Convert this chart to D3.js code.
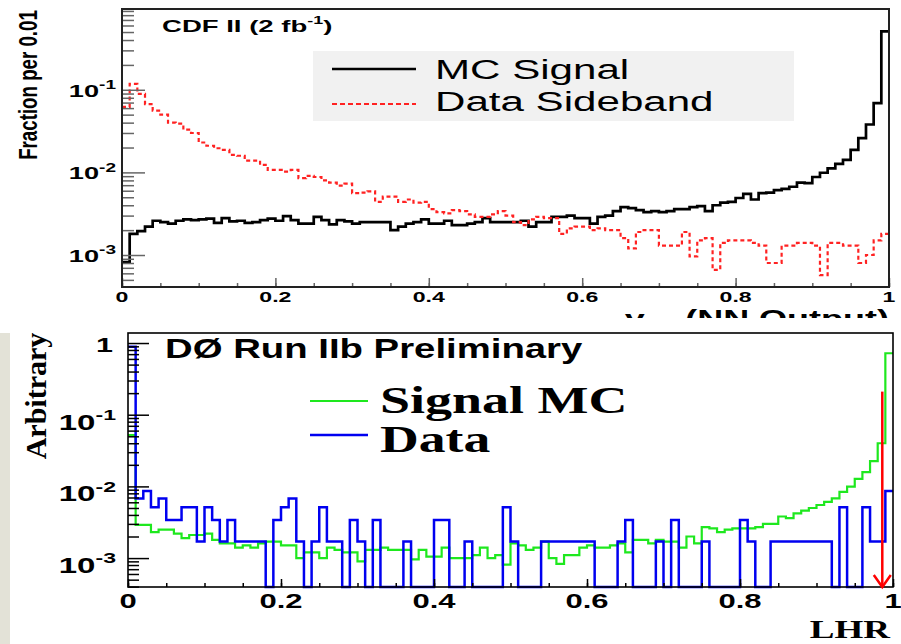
<!DOCTYPE html>
<html><head><meta charset="utf-8">
<script src="https://cdn.jsdelivr.net/npm/d3@7/dist/d3.min.js"></script>
<style>body{margin:0;background:#fff}svg{display:block}</style>
</head><body><svg id="c" width="901" height="644"></svg>
<script>
// ---------------- DATA ----------------
// Top panel (CDF II): NN output, 100 bins of 0.01
const mcSignal = [
0.00082,0.0018,0.00195,0.0022,0.0026,0.0025,0.0024,0.0026,0.0027,0.00265,
0.0027,0.00275,0.00245,0.0028,0.00255,0.0026,0.00245,0.0025,0.00265,0.00275,
0.0026,0.00295,0.00265,0.0024,0.0024,0.0029,0.00265,0.00235,0.00265,0.00255,
0.0024,0.0025,0.0025,0.0025,0.0025,0.0020,0.0022,0.0024,0.0025,0.0027,
0.0024,0.0024,0.0026,0.0023,0.0023,0.0024,0.0025,0.0028,0.0025,0.0025,
0.0025,0.0025,0.0026,0.0022,0.0025,0.0025,0.0029,0.0029,0.0030,0.0028,
0.0028,0.0024,0.0029,0.0030,0.0034,0.0038,0.0037,0.0035,0.0033,0.0034,
0.0033,0.0034,0.0036,0.0036,0.0038,0.0039,0.0034,0.0040,0.0043,0.0044,
0.0049,0.0055,0.0047,0.0056,0.0057,0.0061,0.0063,0.0067,0.0075,0.0074,
0.0088,0.0099,0.0112,0.0127,0.0142,0.0187,0.026,0.038,0.069,0.51];
const dataSideband = [
0.062,0.118,0.089,0.067,0.056,0.050,0.040,0.039,0.033,0.030,
0.023,0.021,0.0196,0.0187,0.0163,0.0159,0.0139,0.0139,0.0123,0.0107,
0.0107,0.0102,0.0107,0.0085,0.0091,0.0088,0.0080,0.0075,0.0069,0.0073,
0.0056,0.0057,0.0059,0.0044,0.0051,0.0051,0.0044,0.0047,0.0043,0.0044,
0.0036,0.0033,0.0032,0.0035,0.0034,0.0031,0.0029,0.0029,0.0031,0.0034,
0.0030,0.0025,0.0023,0.0027,0.0029,0.0028,0.0028,0.0018,0.0021,0.0022,
0.0022,0.0020,0.0021,0.0020,0.0020,0.0016,0.0012,0.0019,0.0020,0.0020,
0.0013,0.0013,0.0013,0.0019,0.00096,0.0015,0.0016,0.00066,0.0014,0.0015,
0.0015,0.0015,0.0014,0.0013,0.0008,0.0008,0.0013,0.0013,0.0014,0.0014,
0.0013,0.00057,0.0014,0.0014,0.0013,0.0013,0.0008,0.0010,0.0015,0.0018];
// Bottom panel (DØ): LHR, 100 bins of 0.01 (0 = empty bin)
const signalMC = [
0.052,0.0029,0.0029,0.0023,0.0025,0.0025,0.0022,0.0019,0.0021,0.0021,
0.0022,0.0018,0.0016,0.0016,0.0014,0.0015,0.0014,0.0016,0.0017,0.0017,
0.0015,0.0015,0.0010,0.0012,0.0012,0.0010,0.0014,0.0013,0.0012,0.0012,
0.0009,0.0013,0.0013,0.0014,0.0013,0.0013,0.0013,0.00096,0.0013,0.00105,
0.00105,0.0014,0.0010,0.0010,0.0010,0.0011,0.0014,0.0010,0.0011,0.00081,
0.0016,0.0015,0.0013,0.0014,0.0017,0.0010,0.00083,0.0011,0.0011,0.0014,
0.0015,0.0014,0.0014,0.0015,0.0016,0.0012,0.0018,0.0018,0.0016,0.0018,
0.0017,0.0017,0.0014,0.0020,0.0016,0.0027,0.0026,0.0023,0.0025,0.0026,
0.0026,0.0026,0.0027,0.0030,0.0030,0.0038,0.0036,0.0042,0.0046,0.0050,
0.0055,0.0061,0.0068,0.0084,0.0099,0.0127,0.0158,0.0225,0.040,0.72];
const dataLHR = [
0.89,0.0068,0.0086,0.0051,0.0068,0.0034,0.0034,0.0051,0.0051,0.0017,
0.0051,0.0034,0.0017,0.0034,0.0017,0.0017,0.0017,0.0017,0,0.0034,
0.0051,0.0068,0.0017,0,0.0017,0.0051,0.0017,0.0017,0,0.0034,
0.0017,0,0.0034,0,0,0,0.0017,0,0,0,
0.0034,0.0034,0,0,0.0017,0,0,0,0,0.0051,
0.0017,0,0,0,0.0017,0.0017,0.0017,0.0017,0.0017,0.0017,
0.0017,0,0,0,0.0017,0.0034,0,0,0,0.0017,
0,0.0034,0,0,0,0.0017,0,0,0,0,
0.0034,0.0017,0,0,0.0017,0.0017,0.0017,0.0017,0.0017,0.0017,
0.0017,0.0017,0,0.0051,0,0,0.0051,0.0017,0.0017,0.0086];
const cutValue = 0.986, cutTop = 0.21;

const xTickValues = [0,0.2,0.4,0.6,0.8,1];
const xTickLabels = ["0","0.2","0.4","0.6","0.8","1"];
const topYTicks = [1e-1,1e-2,1e-3];
const topYExps = ["-1","-2","-3"];
const botYTicks = [1,1e-1,1e-2,1e-3];
const botYExps = ["","-1","-2","-3"];
const topLegend = ["MC Signal","Data Sideband"];
const botLegend = ["Signal MC","Data"];

// ---------------- DRAW ----------------
const svg = d3.select("#c");
const SANS = "'Liberation Sans', Arial, Helvetica, sans-serif";
const SERIF = "'Liberation Serif', 'Times New Roman', serif";

function txt(g, x, y, s, o) {
  const t = g.append("text")
    .attr("transform", `translate(${x},${y})` + (o.rot ? ` rotate(${o.rot})` : "") + ` scale(${o.sx||1},1)`)
    .attr("text-anchor", o.anchor || "start")
    .style("font-family", o.family || SANS)
    .style("font-weight", o.weight || "bold")
    .style("font-size", o.size + "px")
    .attr("fill", o.fill || "#000");
  t.append("tspan").text(s);
  if (o.sup) t.append("tspan").attr("dy", -o.size * 0.45).style("font-size", (o.size * (o.supScale || 0.65)) + "px").text(o.sup);
  if (o.after) t.append("tspan").attr("dy", o.size * 0.45).text(o.after);
  return t;
}
function minorLog(lo, hi) {
  const out = [];
  for (let e = -5; e <= 1; e++) for (let k = 2; k <= 9; k++) { const v = k * Math.pow(10, e); if (v >= lo && v <= hi) out.push(v); }
  return out;
}
const binLow = d3.range(100).map(i => i / 100);
function stepData(vals) { const d = vals.map((v, i) => [binLow[i], v]); d.push([1, vals[vals.length - 1]]); return d; }

// ===== TOP PANEL =====
const gt = svg.append("g");
const xT = d3.scaleLinear().domain([0, 1]).range([122, 889]);
const yT = d3.scaleLog().domain([4.1e-4, 0.95]).range([287, 9]);

// legend box
gt.append("rect").attr("x", 313).attr("y", 51).attr("width", 481).attr("height", 70).attr("fill", "#f1f1f1");
gt.append("line").attr("x1", 332).attr("x2", 416).attr("y1", 69).attr("y2", 69).attr("stroke", "#000").attr("stroke-width", 2.5);
gt.append("line").attr("x1", 332).attr("x2", 416).attr("y1", 104).attr("y2", 104).attr("stroke", "#f22").attr("stroke-width", 2.2).attr("stroke-dasharray", "5,3");
txt(gt, 435, 79, topLegend[0], {size: 27, weight: "normal", sx: 1.56});
txt(gt, 435, 111, topLegend[1], {size: 27, weight: "normal", sx: 1.56});

const lineT = d3.line().x(d => xT(d[0])).y(d => yT(d[1])).curve(d3.curveStepAfter);
gt.append("path").attr("d", lineT(stepData(mcSignal))).attr("fill", "none").attr("stroke", "#000").attr("stroke-width", 2.7);
gt.append("path").attr("d", lineT(stepData(dataSideband))).attr("fill", "none").attr("stroke", "#f22").attr("stroke-width", 2.2).attr("stroke-dasharray", "4,3");

// axes (ticks inside frame)
gt.append("g").attr("transform", "translate(122,0)").call(d3.axisRight(yT).tickValues(minorLog(4.1e-4, 0.95)).tickSize(12).tickFormat(""))
  .call(g => { g.select(".domain").remove(); g.selectAll("line").attr("stroke", "#666").attr("stroke-width", 1.5); });
gt.append("g").attr("transform", "translate(122,0)").call(d3.axisRight(yT).tickValues(topYTicks).tickSize(23).tickFormat(""))
  .call(g => { g.select(".domain").remove(); g.selectAll("line").attr("stroke", "#666").attr("stroke-width", 1.5); });
gt.append("g").attr("transform", "translate(0,287)").call(d3.axisTop(xT).tickValues(d3.range(0, 21).map(i => i * 0.05)).tickSize(4).tickFormat(""))
  .call(g => { g.select(".domain").remove(); g.selectAll("line").attr("stroke", "#666").attr("stroke-width", 1.5); });
gt.append("g").attr("transform", "translate(0,287)").call(d3.axisTop(xT).tickValues(xTickValues).tickSize(9).tickFormat(""))
  .call(g => { g.select(".domain").remove(); g.selectAll("line").attr("stroke", "#666").attr("stroke-width", 1.5); });
gt.append("rect").attr("x", 122).attr("y", 9).attr("width", 767).attr("height", 278).attr("fill", "none").attr("stroke", "#222").attr("stroke-width", 2);

xTickValues.forEach((v, i) => txt(gt, xT(v), 302, xTickLabels[i], {size: 14, sx: 1.65, anchor: "middle"}));
topYTicks.forEach((v, i) => txt(gt, 116, yT(v) + 7, "10", {size: 17, sx: 1.6, anchor: "end", sup: topYExps[i], supScale: 0.7}));
txt(gt, 37, 85, "Fraction per 0.01", {size: 26, sx: 0.72, anchor: "middle", rot: -90});
txt(gt, 162, 32, "CDF II (2 fb", {size: 17, sx: 1.62, sup: "-1", after: ")"});
// x-axis title (partly hidden under the lower panel)
const xt = gt.append("text").attr("transform", "translate(889,327) scale(1.5,1)").attr("text-anchor", "end")
  .style("font-family", SANS).style("font-weight", "bold").style("font-size", "24px");
xt.append("tspan").text("y");
xt.append("tspan").attr("dy", 5).style("font-size", "14px").text("NN");
xt.append("tspan").attr("dy", -5).text(" (NN Output)");

// ===== BOTTOM PANEL =====
const gb = svg.append("g");
gb.append("rect").attr("x", 0).attr("y", 318).attr("width", 901).attr("height", 326).attr("fill", "#fff");
gb.append("rect").attr("x", 0).attr("y", 333).attr("width", 10).attr("height", 311).attr("fill", "#e3e2d7");
const xB = d3.scaleLinear().domain([0, 1]).range([128, 893]);
const yB = d3.scaleLog().domain([3.95e-4, 1.38]).range([587, 333]);
const yBv = v => v > 0 ? yB(v) : yB.range()[0];

txt(gb, 165, 358, "DØ Run IIb Preliminary", {size: 27, sx: 1.42});
gb.append("line").attr("x1", 310).attr("x2", 368).attr("y1", 401).attr("y2", 401).attr("stroke", "#1ee81e").attr("stroke-width", 2.2);
gb.append("line").attr("x1", 310).attr("x2", 368).attr("y1", 435).attr("y2", 435).attr("stroke", "#0000f0").attr("stroke-width", 2.5);
txt(gb, 380, 413, botLegend[0], {size: 37, sx: 1.46, family: SERIF});
txt(gb, 380, 452, botLegend[1], {size: 37, sx: 1.45, family: SERIF});

const lineB = d3.line().x(d => xB(d[0])).y(d => yBv(d[1])).curve(d3.curveStepAfter);
gb.append("path").attr("d", lineB(stepData(signalMC))).attr("fill", "none").attr("stroke", "#1ee81e").attr("stroke-width", 2.2);
gb.append("path").attr("d", lineB(stepData(dataLHR))).attr("fill", "none").attr("stroke", "#0000f0").attr("stroke-width", 2.5);

gb.append("g").attr("transform", "translate(128,0)").call(d3.axisRight(yB).tickValues(minorLog(3.95e-4, 1.38)).tickSize(11).tickFormat(""))
  .call(g => { g.select(".domain").remove(); g.selectAll("line").attr("stroke", "#000").attr("stroke-width", 1.5); });
gb.append("g").attr("transform", "translate(128,0)").call(d3.axisRight(yB).tickValues(botYTicks).tickSize(21).tickFormat(""))
  .call(g => { g.select(".domain").remove(); g.selectAll("line").attr("stroke", "#000").attr("stroke-width", 1.5); });
gb.append("g").attr("transform", "translate(0,587)").call(d3.axisTop(xB).tickValues(d3.range(0, 21).map(i => i * 0.05)).tickSize(4).tickFormat(""))
  .call(g => { g.select(".domain").remove(); g.selectAll("line").attr("stroke", "#000").attr("stroke-width", 1.5); });
gb.append("g").attr("transform", "translate(0,587)").call(d3.axisTop(xB).tickValues(xTickValues).tickSize(8).tickFormat(""))
  .call(g => { g.select(".domain").remove(); g.selectAll("line").attr("stroke", "#000").attr("stroke-width", 1.5); });
gb.append("rect").attr("x", 128).attr("y", 333).attr("width", 765).attr("height", 254).attr("fill", "none").attr("stroke", "#000").attr("stroke-width", 1.6);

// cut arrow
const ax = xB(cutValue);
gb.append("line").attr("x1", ax).attr("x2", ax).attr("y1", yB(cutTop)).attr("y2", 586).attr("stroke", "#f00").attr("stroke-width", 2.5);
gb.append("path").attr("d", `M${ax - 8.5},575L${ax},587L${ax + 8.5},575`).attr("fill", "none").attr("stroke", "#f00").attr("stroke-width", 2.5);

xTickValues.forEach((v, i) => txt(gb, xB(v), 608, xTickLabels[i], {size: 20, sx: 1.55, anchor: "middle"}));
botYTicks.forEach((v, i) => {
  if (botYExps[i] === "") txt(gb, 113, yB(v) + 9, "1", {size: 21, sx: 1.45, anchor: "end"});
  else txt(gb, 116, yB(v) + 15, "10", {size: 22, sx: 1.5, anchor: "end", sup: botYExps[i], supScale: 0.7});
});
txt(gb, 46, 396, "Arbitrary", {size: 30, family: SERIF, anchor: "middle", rot: -90});
txt(gb, 890, 638, "LHR", {size: 25, sx: 1.48, family: SERIF, anchor: "end"});
</script></body></html>
